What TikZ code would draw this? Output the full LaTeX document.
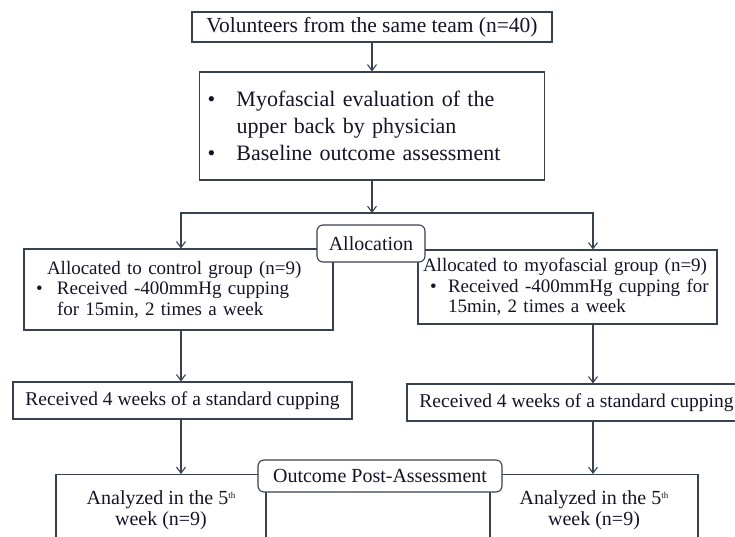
\documentclass[tikz,border=0pt]{standalone}
\usepackage{fontspec}
\setmainfont{Liberation Serif}
\usetikzlibrary{arrows.meta,positioning}

\definecolor{lineclr}{RGB}{55,65,80}
\definecolor{txtclr}{RGB}{20,20,40}

\tikzset{
	box/.style={draw=lineclr, line width=1.1pt, rectangle, inner sep=0pt, text=txtclr},
	tagbox/.style={box, rounded corners=6pt, fill=white},
	flow/.style={draw=lineclr, line width=1.1pt, -{Straight Barb[length=6pt,width=9pt]}},
}
\newcommand{\bul}[1]{\makebox[#1][l]{\textbullet}}
\newcommand{\smallth}{\raisebox{6pt}{\fontsize{9}{9}\selectfont th}}

\begin{document}
\begin{tikzpicture}[x=1pt, y=-1pt]
	\useasboundingbox (0,0) rectangle (735,537);

	% Enrolment and baseline
	\node[box, minimum width=360pt, minimum height=30pt, font=\fontsize{21.5}{25}\selectfont] (vol) at (372,27) {Volunteers from the same team (n=40)};
	\node[box, text width=329pt, inner xsep=8pt, minimum height=108pt, align=left, font=\fontsize{22}{27}\selectfont] (eval) at (372,126)
		{\bul{29pt}Myofascial evaluation of the\\ \hspace*{29pt}upper back by physician\\ \bul{29pt}Baseline outcome assessment};

	\coordinate (split) at (372,213);
	\coordinate (colL) at (181,0);
	\coordinate (colR) at (593,0);

	% The two groups
	\node[box, text width=285pt, inner xsep=12pt, minimum height=81pt, align=left, font=\fontsize{19}{20.5}\selectfont] (ctrl) at (178.5,289.5)
		{\hspace*{11pt}Allocated to control group (n=9)\\ \bul{21pt}Received -400mmHg cupping\\ \hspace*{21pt}for 15min, 2 times a week};
	\node[box, text width=289pt, inner xsep=5pt, minimum height=74pt, align=left, font=\fontsize{19}{20.5}\selectfont] (myo) at (567.5,287)
		{Allocated to myofascial group (n=9)\\ \hspace*{7pt}\bul{18pt}Received -400mmHg cupping for\\ \hspace*{25pt}15min, 2 times a week};

	\node[box, minimum width=339pt, minimum height=37pt, font=\fontsize{19.5}{23}\selectfont] (recL) at (182.5,400.5) {Received 4 weeks of a standard cupping};
	\node[box, minimum width=339pt, minimum height=37pt, font=\fontsize{19.5}{23}\selectfont] (recR) at (576.5,402.5) {Received 4 weeks of a standard cupping};

	% Analysis boxes run past the lower edge
	\node[box, minimum width=210pt, minimum height=90pt, anchor=north] (anaL) at (161,474) {};
	\node[anchor=north, align=center, inner sep=0pt, text=txtclr, font=\fontsize{20}{21}\selectfont] (anaLtxt) at ([yshift=-16pt]anaL.north) {Analyzed in the 5\smallth\\week (n=9)};
	\node[box, minimum width=208pt, minimum height=90pt, anchor=north] (anaR) at (594,474) {};
	\node[anchor=north, align=center, inner sep=0pt, text=txtclr, font=\fontsize{20}{21}\selectfont] (anaRtxt) at ([yshift=-16pt]anaR.north) {Analyzed in the 5\smallth\\week (n=9)};

	% Connectors
	\draw[flow] (vol) -- (eval);
	\draw[flow] (eval) -- (split);
	\draw[flow] (split) -| (ctrl.north -| colL);
	\draw[flow] (split) -| (myo.north -| colR);
	\draw[flow] (ctrl.south -| colL) -- (recL.north -| colL);
	\draw[flow] (myo.south -| colR) -- (recR.north -| colR);
	\draw[flow] (recL.south -| colL) -- (anaL.north -| colL);
	\draw[flow] (recR.south -| colR) -- (anaR.north -| colR);

	% Stage labels on top
	\node[tagbox, minimum width=108pt, minimum height=37pt, font=\fontsize{20}{24}\selectfont] (alloc) at (371,243.5) {Allocation};
	\node[tagbox, minimum width=244pt, minimum height=32pt, font=\fontsize{20}{24}\selectfont] (post) at (380,476) {Outcome Post-Assessment};
\end{tikzpicture}
\end{document}
